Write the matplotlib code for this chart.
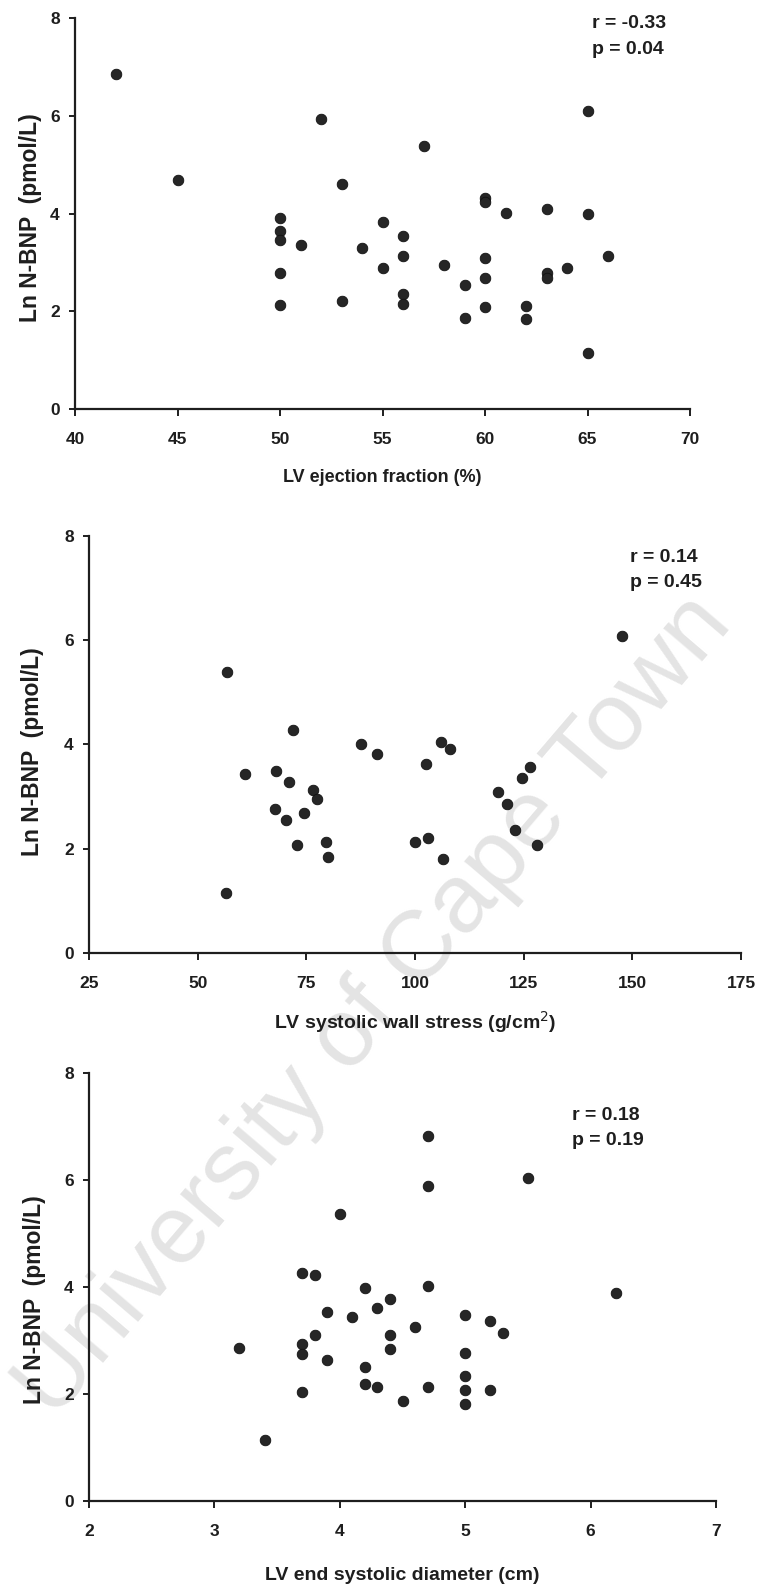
import matplotlib
matplotlib.use('Agg')
import matplotlib.pyplot as plt

plt.rcParams['font.family'] = ['Liberation Sans', 'DejaVu Sans']

# panel 1: LV ejection fraction
ef = [42, 45, 50, 50, 50, 50, 50, 51, 52, 53, 53, 54, 55, 55, 56, 56, 56, 56, 57,
      58, 59, 59, 60, 60, 60, 60, 60, 61, 62, 62, 63, 63, 63, 64, 65, 65, 65, 66]
bnp_ef = [6.85, 4.68, 3.90, 3.64, 3.45, 2.79, 2.13, 3.35, 5.93, 4.60, 2.21, 3.29, 3.82,
          2.88, 3.53, 3.14, 2.36, 2.14, 5.38, 2.95, 2.53, 1.87, 4.32, 4.23, 3.08, 2.68,
          2.08, 4.02, 2.10, 1.84, 4.10, 2.79, 2.68, 2.89, 6.09, 4.00, 1.15, 3.14]

# panel 2: LV systolic wall stress
ws = [56.7, 56.5, 61.0, 68.1, 72.0, 71.1, 67.8, 70.4, 74.4, 76.5, 77.4, 72.8, 79.5,
      79.9, 87.6, 91.3, 99.9, 103.1, 102.6, 106.0, 108.1, 106.4, 119.0, 121.2, 122.9,
      124.6, 126.4, 128.0, 147.7]
bnp_ws = [5.40, 1.15, 3.43, 3.50, 4.28, 3.29, 2.76, 2.55, 2.68, 3.13, 2.96, 2.07, 2.13,
          1.85, 4.00, 3.82, 2.13, 2.20, 3.62, 4.04, 3.91, 1.81, 3.09, 2.86, 2.36, 3.36,
          3.57, 2.07, 6.08]

# panel 3: LV end systolic diameter
esd = [3.2, 3.4, 3.7, 3.7, 3.7, 3.7, 3.8, 3.8, 3.9, 3.9, 4.0, 4.1, 4.2, 4.2, 4.2, 4.3,
       4.3, 4.4, 4.4, 4.4, 4.5, 4.6, 4.7, 4.7, 4.7, 4.7, 5.0, 5.0, 5.0, 5.0, 5.0, 5.2,
       5.2, 5.3, 5.5, 6.2]
bnp_esd = [2.86, 1.14, 4.27, 2.93, 2.75, 2.03, 4.22, 3.10, 3.54, 2.64, 5.36, 3.43, 3.99,
           2.51, 2.19, 3.61, 2.13, 3.78, 3.10, 2.84, 1.86, 3.26, 6.82, 5.89, 4.01, 2.13,
           3.47, 2.76, 2.33, 2.07, 1.82, 3.36, 2.07, 3.14, 6.03, 3.88]

xlabels = ['LV ejection fraction (%)', 'LV systolic wall stress (g/cm$^2$)',
           'LV end systolic diameter (cm)']
ylabel = 'Ln N-BNP  (pmol/L)'
stats = [('r = -0.33', 'p = 0.04'), ('r = 0.14', 'p = 0.45'), ('r = 0.18', 'p = 0.19')]
xlims = [(40, 70), (25, 175), (2, 7)]
xticks = [range(40, 71, 5), range(25, 176, 25), range(2, 8)]
yticks = [0, 2, 4, 6, 8]

W, H = 762, 1590
fig = plt.figure(figsize=(W / 100, H / 100), dpi=100)

# pixel boxes of the plot areas: left, right, top, bottom
boxes = [(75, 690, 18, 409), (89, 741, 536, 953), (89, 716, 1073, 1501)]
ylab_pos = [(31, 218), (33, 752), (35, 1300)]
xlab_y = [478, 1022, 1576]
xlab_size = [13, 14, 14]
stat_pos = [(592, 24), (630, 557), (572, 1115)]
stat_gap = 25.5

ink = '#1e1e1e'
data = [(ef, bnp_ef), (ws, bnp_ws), (esd, bnp_esd)]

for i, (x, y) in enumerate(data):
    l, r, t, b = boxes[i]
    ax = fig.add_axes([l / W, 1 - b / H, (r - l) / W, (b - t) / H])
    ax.set_facecolor('none')
    ax.scatter(x, y, s=58, color='#262626', edgecolors='#111111', linewidths=0.6,
               zorder=3, clip_on=False)
    ax.set_xlim(*xlims[i])
    ax.set_ylim(0, 8)
    ax.set_xticks(list(xticks[i]))
    ax.set_yticks(yticks)
    for s in ['top', 'right']:
        ax.spines[s].set_visible(False)
    for s in ['left', 'bottom']:
        ax.spines[s].set_linewidth(1.6)
        ax.spines[s].set_color(ink)
    ax.tick_params(axis='x', direction='out', length=5, width=1.4, color=ink,
                   labelsize=12.5, pad=11.5, labelcolor=ink)
    ax.tick_params(axis='y', direction='out', length=4, width=1.4, color=ink,
                   labelsize=12.5, pad=7, labelcolor=ink)
    for lab in ax.get_xticklabels() + ax.get_yticklabels():
        lab.set_fontweight('bold')

    yx, yy = ylab_pos[i]
    fig.text(yx / W, 1 - yy / H, ylabel, rotation=90, ha='center', va='center',
             fontsize=16.5, fontweight='bold', color=ink)
    fig.text(((l + r) / 2) / W, 1 - xlab_y[i] / H, xlabels[i], ha='center',
             va='center', fontsize=xlab_size[i], fontweight='bold', color=ink)
    sx, sy = stat_pos[i]
    for k, line in enumerate(stats[i]):
        fig.text(sx / W, 1 - (sy + k * stat_gap) / H, line, ha='left', va='center',
                 fontsize=14, fontweight='bold', color=ink)

# watermark of the scanned thesis
fig.text(0.492, 0.367, 'University of Cape Town', rotation=49.5, ha='center',
         va='center', fontsize=70, color='#e4e4e4', zorder=-1)

plt.savefig('out.png', dpi=100)
